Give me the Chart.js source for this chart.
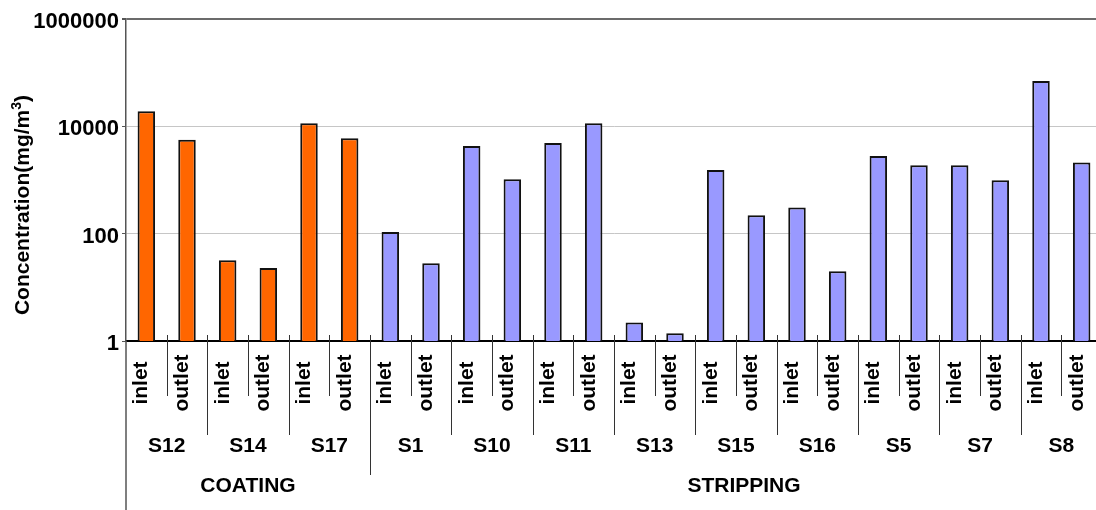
<!DOCTYPE html>
<html>
<head>
<meta charset="utf-8">
<script src="https://cdn.jsdelivr.net/npm/chart.js@4/dist/chart.umd.min.js"></script>
<style>
  html, body { margin: 0; padding: 0; background: #fff; overflow: hidden; }
  #wrap { width: 1104px; height: 510px; }
</style>
</head>
<body>
<div id="wrap"><canvas id="grafico_concentracao" width="1104" height="510"></canvas></div>
<script>
// sampling points, two per source (inlet / outlet)
var pontos = ["inlet", "outlet", "inlet", "outlet", "inlet", "outlet",
              "inlet", "outlet", "inlet", "outlet", "inlet", "outlet",
              "inlet", "outlet", "inlet", "outlet", "inlet", "outlet",
              "inlet", "outlet", "inlet", "outlet", "inlet", "outlet"];
var fontes = ["S12", "S14", "S17", "S1", "S10", "S11", "S13", "S15", "S16", "S5", "S7", "S8"];
var processos = ["COATING", "STRIPPING"];
var fontesPorProcesso = [3, 9];
var coresProcesso = ["#FF6600", "#9999FF"];

// concentration in mg/m3
var concentracao = [19000, 5600, 32, 23, 11400, 6000,
                    107, 28, 4300, 1030, 4900, 11400,
                    2.2, 1.4, 1530, 220, 306, 20,
                    2800, 1880, 1880, 990, 70000, 2110];

var yTicks = [1, 100, 10000, 1000000];

var FONTE = '"Liberation Sans", Arial, sans-serif';

// colour of each bar from the process its source belongs to
var cores = [];
(function () {
    var k = 0;
    for (var p = 0; p < processos.length; p++) {
        for (var n = 0; n < fontesPorProcesso[p] * 2; n++) {
            cores[k++] = coresProcesso[p];
        }
    }
})();

// labels under the axis: points, sources, processes and the divider lines
var rotulosEixo = {
    id: "rotulosEixo",
    afterDraw: function (chart) {
        var ctx = chart.ctx, x = chart.scales.x, area = chart.chartArea;
        var catW = x.width / pontos.length;
        ctx.save();

        // dividers
        ctx.strokeStyle = "#333";
        ctx.lineWidth = 1;
        var inicioStripping = fontesPorProcesso[0] * 2;
        for (var k = 1; k < pontos.length; k++) {
            var bx = Math.round(x.left + k * catW) + 0.5;
            var fim = 396;
            if (k % 2 === 0) fim = 435;
            if (k === inicioStripping) fim = 475;
            ctx.beginPath();
            ctx.moveTo(bx, area.bottom - 6);
            ctx.lineTo(bx, fim);
            ctx.stroke();
        }
        // left axis carried down past the labels
        ctx.strokeStyle = "#555";
        ctx.lineWidth = 1.5;
        ctx.beginPath();
        ctx.moveTo(area.left, area.bottom);
        ctx.lineTo(area.left, chart.height);
        ctx.stroke();

        ctx.fillStyle = "#000";
        ctx.font = "bold 21px " + FONTE;

        // inlet / outlet, rotated
        for (var i = 0; i < pontos.length; i++) {
            var cx = x.getPixelForValue(i);
            ctx.save();
            ctx.translate(cx + 1, 383);
            ctx.rotate(-Math.PI / 2);
            ctx.textAlign = "center";
            ctx.textBaseline = "alphabetic";
            ctx.fillText(pontos[i], 0, 0);
            ctx.restore();
        }

        ctx.textAlign = "center";
        ctx.textBaseline = "middle";
        // sources
        for (var s = 0; s < fontes.length; s++) {
            var sx = (x.getPixelForValue(s * 2) + x.getPixelForValue(s * 2 + 1)) / 2;
            ctx.fillText(fontes[s], sx, 446);
        }
        // processes
        var ini = 0;
        for (var p = 0; p < processos.length; p++) {
            var n = fontesPorProcesso[p] * 2;
            var px = x.left + (ini + n / 2) * catW;
            if (p === 1) px += 8;
            ctx.fillText(processos[p], px, 486);
            ini += n;
        }

        // y axis title
        ctx.save();
        ctx.translate(23, 205);
        ctx.rotate(-Math.PI / 2);
        ctx.textBaseline = "middle";
        var t1 = "Concentration(mg/m";
        ctx.font = "bold 21px " + FONTE;
        var w1 = ctx.measureText(t1).width;
        var w3 = ctx.measureText(")").width;
        ctx.font = "bold 14px " + FONTE;
        var w2 = ctx.measureText("3").width;
        var x0 = -(w1 + w2 + w3) / 2;
        ctx.textAlign = "left";
        ctx.font = "bold 21px " + FONTE;
        ctx.fillText(t1, x0, 0);
        ctx.fillText(")", x0 + w1 + w2, 0);
        ctx.font = "bold 14px " + FONTE;
        ctx.fillText("3", x0 + w1, -6);
        ctx.restore();

        ctx.restore();
    }
};

function init_grafico_concentracao() {
    if ("undefined" == typeof Chart) return;
    var el = document.getElementById("grafico_concentracao");
    new Chart(el, {
        type: "bar",
        data: {
            labels: pontos,
            datasets: [{
                data: concentracao,
                backgroundColor: cores,
                borderColor: "#111",
                borderWidth: 2,
                barPercentage: 0.43,
                categoryPercentage: 1
            }]
        },
        options: {
            responsive: false,
            animation: false,
            layout: { padding: { top: 19, right: 2, left: 0, bottom: 0 } },
            plugins: {
                legend: { display: false },
                tooltip: { enabled: false }
            },
            scales: {
                x: {
                    type: "category",
                    offset: true,
                    grid: { display: false },
                    border: { display: true, color: "#000", width: 2 },
                    ticks: { display: false },
                    afterFit: function (scale) { scale.height = 169; }
                },
                y: {
                    type: "logarithmic",
                    min: 1,
                    max: 1000000,
                    afterBuildTicks: function (scale) {
                        scale.ticks = yTicks.map(function (v) { return { value: v }; });
                    },
                    afterFit: function (scale) { scale.width = 126; },
                    grid: {
                        color: function (c) {
                            if (c.tick.value === 1000000) return "#6b6b6b";
                            if (c.tick.value === 1) return "rgba(0,0,0,0)";
                            return "#c6c6c6";
                        },
                        lineWidth: function (c) {
                            return c.tick.value === 1000000 ? 2 : 1;
                        },
                        tickColor: "#555",
                        tickLength: 4
                    },
                    border: { display: true, color: "#555", width: 1.5 },
                    ticks: {
                        color: "#000",
                        padding: 3,
                        labelOffset: 3,
                        font: { family: FONTE, size: 22, weight: "bold" },
                        callback: function (v) { return String(v); }
                    }
                }
            }
        },
        plugins: [rotulosEixo]
    });
}

init_grafico_concentracao();
</script>
</body>
</html>
